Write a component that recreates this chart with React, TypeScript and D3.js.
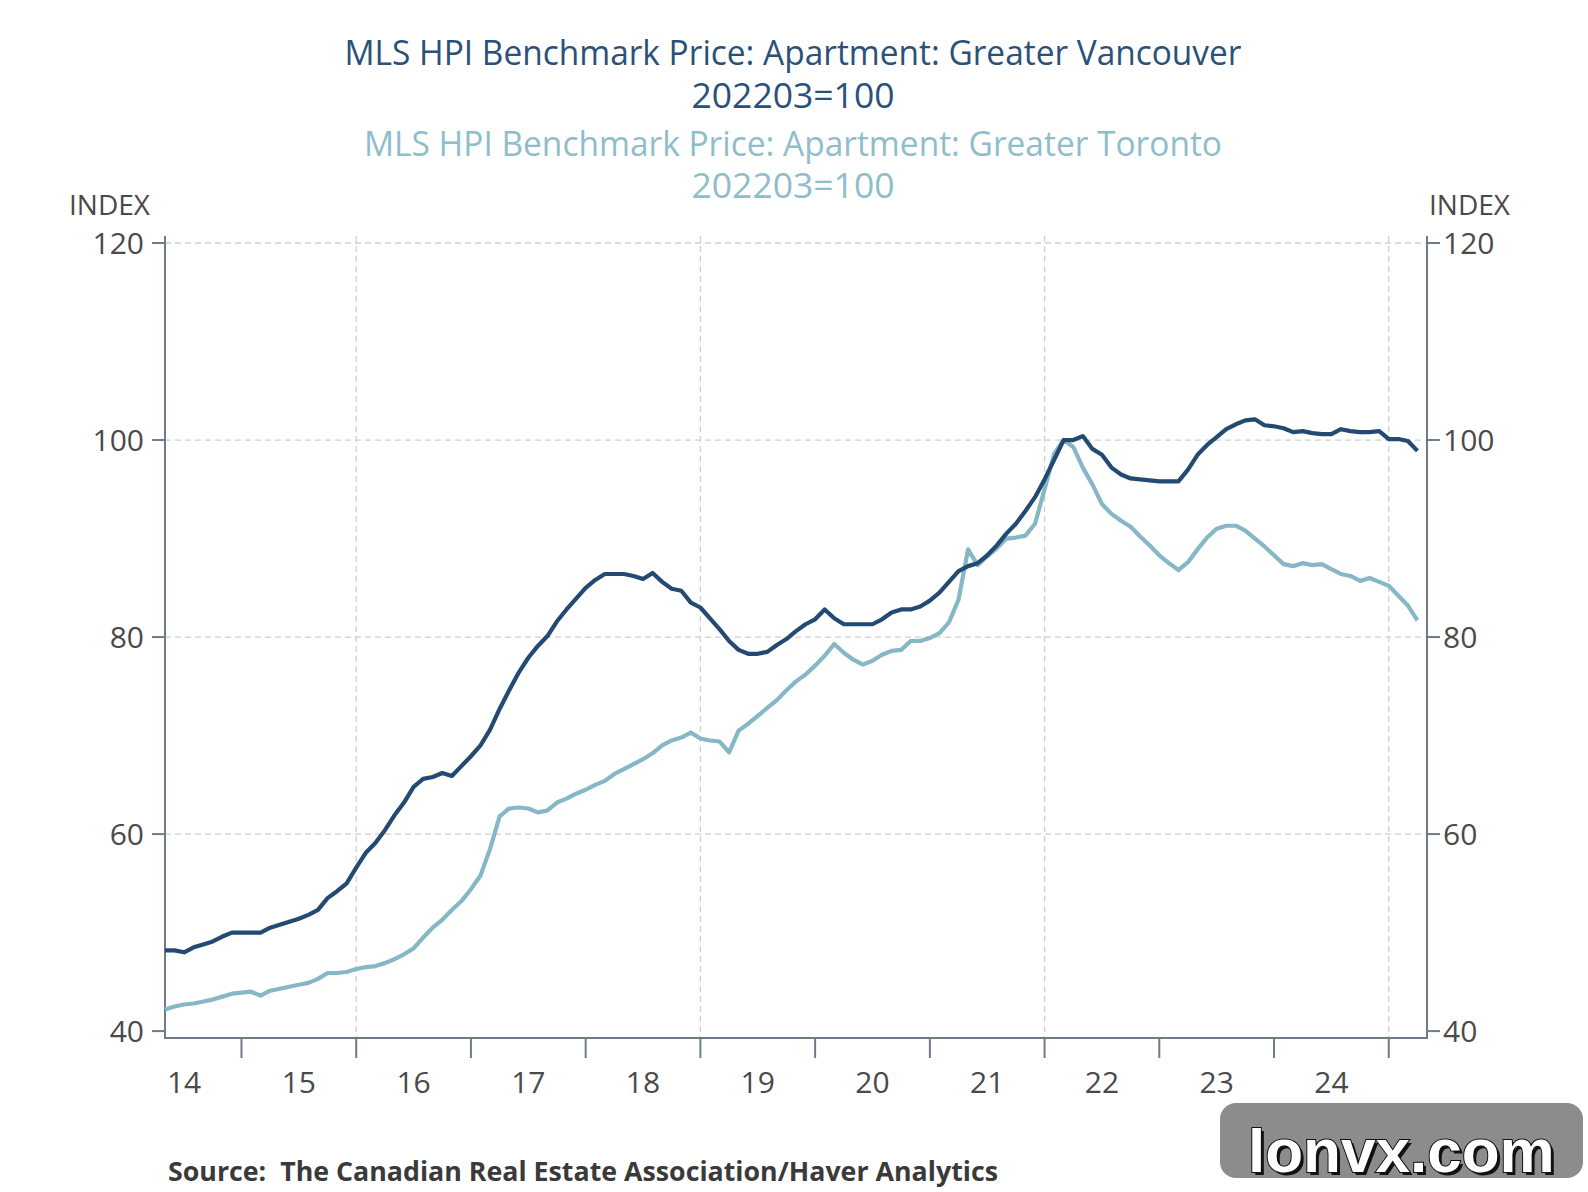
import React from "react";
import * as d3 from "d3";

// Monthly data, 2014:05 .. 2025:04 (132 months), 202203 = 100
const startYear = 2014;
const startMonth = 5; // May
const vancouver = [
  48.2, 48.2, 48.0, 48.5, 48.8, 49.1, 49.6, 50.0, 50.0, 50.0,
  50.0, 50.5, 50.8, 51.1, 51.4, 51.8, 52.3, 53.5, 54.2, 55.0,
  56.6, 58.1, 59.1, 60.4, 61.9, 63.2, 64.8, 65.6, 65.8, 66.2,
  65.9, 66.9, 67.9, 69.0, 70.6, 72.7, 74.6, 76.4, 77.9, 79.1,
  80.1, 81.6, 82.8, 83.9, 85.0, 85.8, 86.4, 86.4, 86.4, 86.2,
  85.9, 86.5, 85.6, 84.9, 84.7, 83.5, 83.0, 81.9, 80.8, 79.6,
  78.7, 78.3, 78.3, 78.5, 79.2, 79.8, 80.6, 81.3, 81.8, 82.8,
  81.9, 81.3, 81.3, 81.3, 81.3, 81.8, 82.5, 82.8, 82.8, 83.1,
  83.7, 84.5, 85.6, 86.7, 87.2, 87.5, 88.3, 89.3, 90.5, 91.5,
  92.8, 94.2, 96.0, 98.0, 100.0, 100.0, 100.4, 99.1, 98.5, 97.2,
  96.5, 96.1, 96.0, 95.9, 95.8, 95.8, 95.8, 97.0, 98.5, 99.5,
  100.3, 101.1, 101.6, 102.0, 102.1, 101.5, 101.4, 101.2, 100.8, 100.9,
  100.7, 100.6, 100.6, 101.1, 100.9, 100.8, 100.8, 100.9, 100.1, 100.1,
  99.9, 98.9,
];
const toronto = [
  42.2, 42.5, 42.7, 42.8, 43.0, 43.2, 43.5, 43.8, 43.9, 44.0,
  43.6, 44.1, 44.3, 44.5, 44.7, 44.9, 45.3, 45.9, 45.9, 46.0,
  46.3, 46.5, 46.6, 46.9, 47.3, 47.8, 48.4, 49.5, 50.5, 51.3,
  52.3, 53.2, 54.4, 55.8, 58.5, 61.8, 62.6, 62.7, 62.6, 62.2,
  62.4, 63.2, 63.6, 64.1, 64.5, 65.0, 65.4, 66.1, 66.6, 67.1,
  67.6, 68.2, 69.0, 69.5, 69.8, 70.3, 69.7, 69.5, 69.4, 68.3,
  70.5, 71.2, 72.0, 72.8, 73.6, 74.6, 75.5, 76.2, 77.1, 78.1,
  79.3, 78.4, 77.7, 77.2, 77.6, 78.2, 78.6, 78.7, 79.6, 79.6,
  79.9, 80.4, 81.5, 83.8, 88.9, 87.3, 88.2, 89.0, 90.0, 90.1,
  90.3, 91.5, 95.0, 98.6, 100.0, 99.3, 97.2, 95.5, 93.5, 92.5,
  91.8, 91.2, 90.2, 89.3, 88.3, 87.5, 86.8, 87.6, 88.9, 90.1,
  91.0, 91.3, 91.3, 90.8, 90.0, 89.2, 88.3, 87.4, 87.2, 87.5,
  87.3, 87.4, 86.9, 86.4, 86.2, 85.7, 86.0, 85.6, 85.2, 84.2,
  83.2, 81.7,
];
const yTicks = [40, 60, 80, 100, 120];
const yGrid = [60, 80, 100, 120];
const yearLabels = [2014, 2015, 2016, 2017, 2018, 2019, 2020, 2021, 2022, 2023, 2024];
const yearTicks = [2015, 2016, 2017, 2018, 2019, 2020, 2021, 2022, 2023, 2024, 2025];
const xGridYears = [2016, 2019, 2022, 2025];

const titleLines = [
  { text: "MLS HPI Benchmark Price: Apartment: Greater Vancouver", color: "#2b5179", len: 897 },
  { text: "202203=100", color: "#2b5179", len: 203 },
  { text: "MLS HPI Benchmark Price: Apartment: Greater Toronto", color: "#8fbdcc", len: 858 },
  { text: "202203=100", color: "#8fbdcc", len: 203 },
];
const titleBaselines = [65, 108, 156, 198];

const VAN_COLOR = "#224a72";
const TOR_COLOR = "#86b7c7";
const AXIS_COLOR = "#6d7c88";
const TEXT_COLOR = "#4a4a4a";
const FONT = "'Open Sans', 'Noto Sans', sans-serif";

export default function App() {
  const W = 1588;
  const H = 1192;
  const left = 165;
  const right = 1427;
  const x = d3.scaleLinear().domain([startYear + (startMonth - 1) / 12, 2025 + 4 / 12]).range([left, right]);
  const y = d3.scaleLinear().domain([39.3, 120]).range([1038, 243]);
  const dates = vancouver.map((_, i) => startYear + (startMonth - 1 + i) / 12);
  const line = d3
    .line<number>()
    .x((_, i) => x(dates[i]))
    .y((d) => y(d))
    .curve(d3.curveLinear);
  const bottom = y.range()[0];
  const top = 236;

  return (
    <svg
      width={W}
      height={H}
      viewBox={`0 0 ${W} ${H}`}
      style={{ position: "absolute", left: 0, top: 0, background: "#fff", display: "block" }}
      fontFamily={FONT}
    >
      <rect x={0} y={0} width={W} height={H} fill="#fff" />
      {titleLines.map((t, i) => (
        <text
          key={i}
          x={793}
          y={titleBaselines[i]}
          textAnchor="middle"
          fontSize={34}
          fill={t.color}
          textLength={t.len}
          lengthAdjust="spacingAndGlyphs"
        >
          {t.text}
        </text>
      ))}

      {/* grid */}
      {yGrid.map((v) => (
        <line key={"hg" + v} x1={left} x2={right} y1={y(v)} y2={y(v)} stroke="#cfcfcf" strokeWidth={1.3} strokeDasharray="6,4" />
      ))}
      {xGridYears.map((yr) => (
        <line key={"vg" + yr} x1={x(yr)} x2={x(yr)} y1={top} y2={bottom} stroke="#cfcfcf" strokeWidth={1.3} strokeDasharray="6,4" />
      ))}

      {/* axes */}
      <line x1={left} x2={left} y1={top} y2={bottom} stroke={AXIS_COLOR} strokeWidth={2} />
      <line x1={right} x2={right} y1={top} y2={bottom} stroke={AXIS_COLOR} strokeWidth={2} />
      <line x1={left - 1} x2={right + 1} y1={bottom} y2={bottom} stroke={AXIS_COLOR} strokeWidth={2.2} />

      {yTicks.map((v) => (
        <g key={"yt" + v}>
          <line x1={left - 13} x2={left} y1={y(v)} y2={y(v)} stroke={AXIS_COLOR} strokeWidth={2} />
          <line x1={right} x2={right + 13} y1={y(v)} y2={y(v)} stroke={AXIS_COLOR} strokeWidth={2} />
          <text x={left - 21} y={y(v)} dy="0.36em" textAnchor="end" fontSize={30} fill={TEXT_COLOR}>
            {v}
          </text>
          <text x={right + 16} y={y(v)} dy="0.36em" textAnchor="start" fontSize={30} fill={TEXT_COLOR}>
            {v}
          </text>
        </g>
      ))}
      <text x={69} y={215} fontSize={28} fill={TEXT_COLOR}>INDEX</text>
      <text x={1429} y={215} fontSize={28} fill={TEXT_COLOR}>INDEX</text>

      {yearTicks.map((yr) => (
        <line key={"xt" + yr} x1={x(yr)} x2={x(yr)} y1={bottom} y2={bottom + 20} stroke={AXIS_COLOR} strokeWidth={2} />
      ))}
      {yearLabels.map((yr) => (
        <text key={"xl" + yr} x={x(yr + 0.5)} y={1093} textAnchor="middle" fontSize={30} fill={TEXT_COLOR}>
          {String(yr).slice(2)}
        </text>
      ))}

      {/* series */}
      <path d={line(toronto) || ""} fill="none" stroke={TOR_COLOR} strokeWidth={4.2} strokeLinejoin="round" />
      <path d={line(vancouver) || ""} fill="none" stroke={VAN_COLOR} strokeWidth={4.2} strokeLinejoin="round" />

      <text
        x={168}
        y={1181}
        fontSize={26}
        fontWeight="bold"
        fill="#3a3a3a"
        textLength={830}
        lengthAdjust="spacingAndGlyphs"
        style={{ whiteSpace: "pre" }}
      >
        {"Source:  The Canadian Real Estate Association/Haver Analytics"}
      </text>

      {/* watermark */}
      <rect x={1220} y={1103} width={363} height={75} rx={16} ry={16} fill="#8c8c8c" />
      <text x={1251} y={1175} fontSize={62} fontWeight="bold" fontFamily="'Liberation Sans', Arial, sans-serif" fill="#111">
        lonvx.com
      </text>
      <text
        x={1248}
        y={1172}
        fontSize={62}
        fontWeight="bold"
        fontFamily="'Liberation Sans', Arial, sans-serif"
        fill="#fff"
        stroke="#111"
        strokeWidth={2}
        paintOrder="stroke"
      >
        lonvx.com
      </text>
    </svg>
  );
}
